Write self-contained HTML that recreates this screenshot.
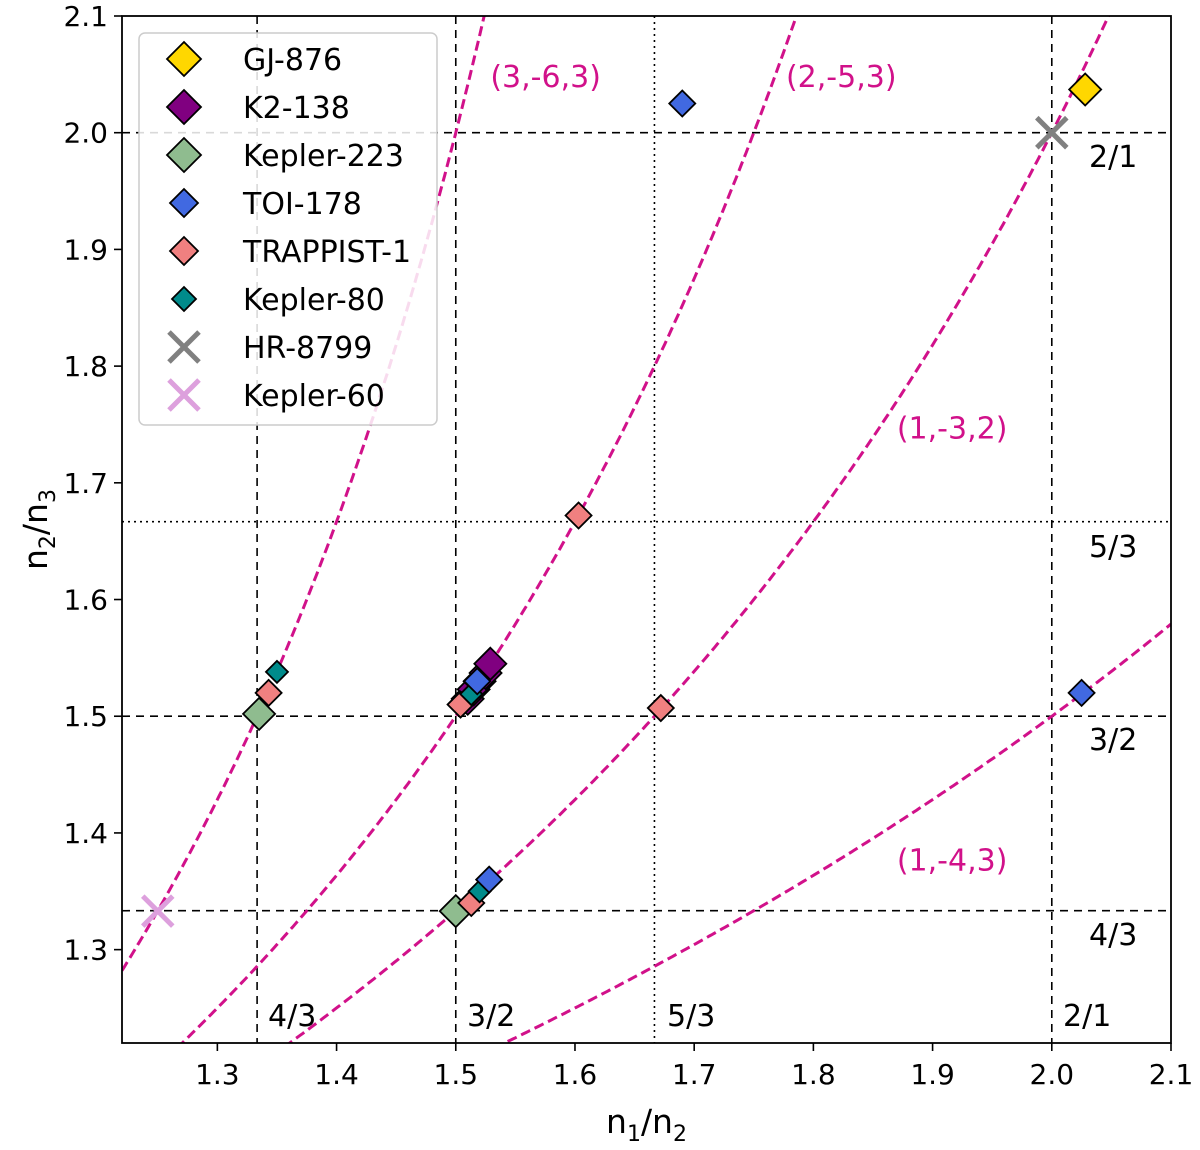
<!DOCTYPE html>
<html><head><meta charset="utf-8"><style>
body{margin:0;background:#fff}
svg text{font-family:"DejaVu Sans","Liberation Sans",sans-serif}
</style></head><body>
<svg id="chart" width="1200" height="1145" xmlns="http://www.w3.org/2000/svg"></svg>
<script>
const xTicks=[1.3,1.4,1.5,1.6,1.7,1.8,1.9,2.0,2.1];
const yTicks=[1.3,1.4,1.5,1.6,1.7,1.8,1.9,2.0,2.1];
const resonanceCoeffs=[[3,-6,3],[2,-5,3],[1,-3,2],[1,-4,3]];
const resLabelX=[1.529,1.777,1.87,1.87];
const resLabelY=[2.039,2.039,1.738,1.368];
const gj876X=[2.028],gj876Y=[2.037];
const k2X=[1.51,1.515,1.52,1.525,1.529],k2Y=[1.515,1.523,1.53,1.537,1.545];
const k223X=[1.335,1.5],k223Y=[1.502,1.333];
const toiX=[1.69,2.025,1.518,1.528],toiY=[2.025,1.52,1.53,1.36];
const trapX=[1.343,1.504,1.603,1.672,1.513],trapY=[1.52,1.51,1.672,1.507,1.34];
const k80X=[1.35,1.513,1.52],k80Y=[1.538,1.519,1.35];
const hrX=[2.0],hrY=[2.0];
const k60X=[1.25],k60Y=[1.333];
const L=122,R=1171,T=16,B=1043,X0=1.22,X1=2.1,Y0=1.22,Y1=2.1;
const sx=v=>L+(v-X0)/(X1-X0)*(R-L), sy=v=>B-(v-Y0)/(Y1-Y0)*(B-T);
const svg=document.getElementById('chart');const NS='http://www.w3.org/2000/svg';
function mk(tag,attrs,parent){const e=document.createElementNS(NS,tag);for(const k in attrs)e.setAttribute(k,attrs[k]);(parent||svg).appendChild(e);return e;}
const clip=mk('clipPath',{id:'cp'});mk('rect',{x:L,y:T,width:R-L,height:B-T},clip);
const plot=mk('g',{'clip-path':'url(#cp)'});

const refV=[[4/3,'8,6'],[1.5,'8,6'],[5/3,'2,4'],[2,'8,6']];
refV.forEach(r=>{const l=mk('line',{x1:sx(r[0]),x2:sx(r[0]),y1:T,y2:B,stroke:'#000','stroke-width':1.6,'stroke-dasharray':r[1]},plot);
});
refV.forEach(r=>{const l=mk('line',{y1:sy(r[0]),y2:sy(r[0]),x1:L,x2:R,stroke:'#000','stroke-width':1.6,'stroke-dasharray':r[1]},plot);
});
resonanceCoeffs.forEach((c,i)=>{let d='';for(let k=0;k<=400;k++){const x=X0+(X1-X0)*k/400;const den=c[0]*x+c[1];if(den>=0)continue;const y=-c[2]/den;if(y>2.5||y<1)continue;d+=(d?'L':'M')+sx(x).toFixed(1)+','+sy(y).toFixed(1);}
const p=mk('path',{d:d,fill:'none',stroke:'#d1118a','stroke-width':3,'stroke-dasharray':'10,5'},plot);

const t=mk('text',{x:sx(resLabelX[i]),y:sy(resLabelY[i]),fill:'#d1118a','font-size':30});t.textContent='('+c.join(',')+')';
});
const rl=[[268,1026,'4/3'],[467,1026,'3/2'],[667,1026,'5/3'],[1063,1026,'2/1'],[1089,167,'2/1'],[1089,557,'5/3'],[1089,750,'3/2'],[1089,945,'4/3']];
rl.forEach(r=>{const t=mk('text',{x:r[0],y:r[1],'font-size':30,fill:'#000'});t.textContent=r[2];
});
function diamond(g,cx,cy,s,fill){return mk('path',{d:`M${cx},${cy-s}L${cx+s},${cy}L${cx},${cy+s}L${cx-s},${cy}Z`,fill:fill,stroke:'#000','stroke-width':1.8},g);}
function cross(g,cx,cy,s,col){const gg=mk('g',{},g);mk('line',{x1:cx-s,y1:cy-s,x2:cx+s,y2:cy+s,stroke:col,'stroke-width':5},gg);mk('line',{x1:cx-s,y1:cy+s,x2:cx+s,y2:cy-s,stroke:col,'stroke-width':5},gg);return gg;}
const series=[['GJ-876',gj876X,gj876Y,'d',16,'#ffd700'],['K2-138',k2X,k2Y,'d',16,'#800080'],['Kepler-223',k223X,k223Y,'d',16,'#8fbc8f'],['TOI-178',toiX,toiY,'d',13,'#4169e1'],['TRAPPIST-1',trapX,trapY,'d',13,'#f08080'],['Kepler-80',k80X,k80Y,'d',11,'#008b8b'],['HR-8799',hrX,hrY,'x',15,'#808080'],['Kepler-60',k60X,k60Y,'x',15,'#dda0dd']];
const order=[0,1,2,4,5,3,6,7];
order.forEach(si=>{const s=series[si];s[1].forEach((x,j)=>{const m=s[3]=='d'?diamond(svg,sx(x),sy(s[2][j]),s[4],s[5]):cross(svg,sx(x),sy(s[2][j]),s[4],s[5]);
});});
const f=mk('rect',{x:L,y:T,width:R-L,height:B-T,fill:'none',stroke:'#000','stroke-width':1.8});

xTicks.forEach(v=>{mk('line',{x1:sx(v),x2:sx(v),y1:B,y2:B+8,stroke:'#000','stroke-width':1.6});const t=mk('text',{x:sx(v),y:B+41,'text-anchor':'middle','font-size':28});t.textContent=v.toFixed(1);
});
yTicks.forEach(v=>{mk('line',{x1:L-8,x2:L,y1:sy(v),y2:sy(v),stroke:'#000','stroke-width':1.6});const t=mk('text',{x:L-14,y:sy(v)+10,'text-anchor':'end','font-size':28});t.textContent=v.toFixed(1);
});
const xt=mk('text',{x:(L+R)/2,y:1133,'text-anchor':'middle','font-size':33});xt.innerHTML='n<tspan font-size="22" dy="8">1</tspan><tspan dy="-8">/n</tspan><tspan font-size="22" dy="8">2</tspan>';

const yt=mk('text',{x:0,y:0,'text-anchor':'middle','font-size':33,transform:`translate(47,${(T+B)/2}) rotate(-90)`});yt.innerHTML='n<tspan font-size="22" dy="8">2</tspan><tspan dy="-8">/n</tspan><tspan font-size="22" dy="8">3</tspan>';

const lg=mk('g',{});
mk('rect',{x:139,y:33,width:298,height:392,rx:6,fill:'rgba(255,255,255,0.85)',stroke:'#ccc','stroke-width':1.5},lg);
series.forEach((s,i)=>{const cy=59+i*48;const e=mk('g',{},lg);
if(s[3]=='d')diamond(e,184,cy,s[4]+1,s[5]);else cross(e,184,cy,s[4],s[5]);
const t=mk('text',{x:243,y:cy+11,'font-size':30},e);t.textContent=s[0];});
</script>
</body></html>
